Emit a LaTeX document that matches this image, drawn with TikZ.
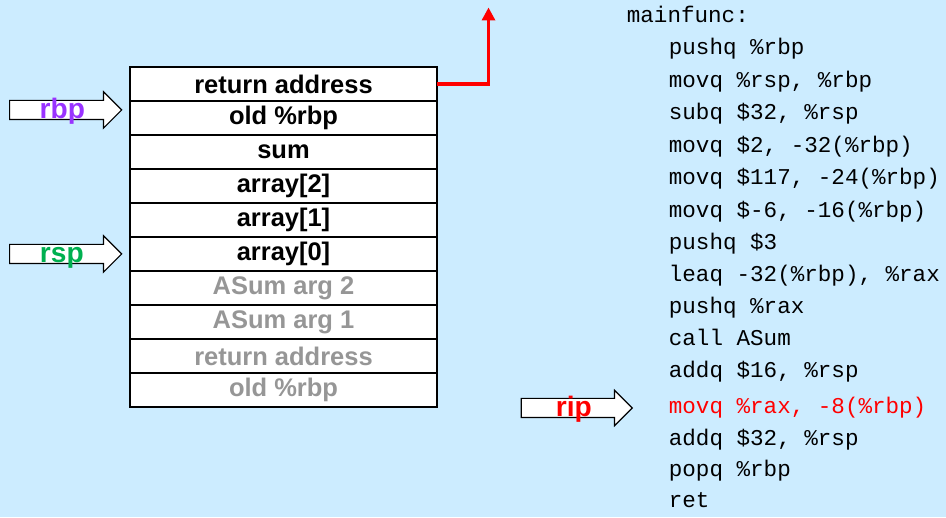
\documentclass[tikz,border=0pt]{standalone}
\usepackage{fontspec}
\setmainfont{Liberation Sans}
\setmonofont{Liberation Mono}
\usetikzlibrary{shapes.arrows,arrows.meta,positioning}

\definecolor{bgblue}{RGB}{204,236,255}
\definecolor{rbpcol}{RGB}{153,51,255}
\definecolor{rspcol}{RGB}{0,176,80}
\definecolor{ripcol}{RGB}{255,0,0}
\definecolor{argcol}{RGB}{150,150,150}

\tikzset{
  slot/.style={draw, line width=0.8pt, fill=white, outer sep=0pt, inner sep=0pt,
    minimum width=6.14cm, minimum height=0.68cm,
    font=\fontsize{14.5}{16}\selectfont\bfseries},
  oldslot/.style={slot, text=argcol},
  ptr/.style={single arrow, draw, line width=0.7pt, fill=white,
    inner xsep=0pt, inner ysep=0.18cm, minimum height=2.24cm,
    single arrow head extend=0.17cm, anchor=tip},
  ptrlbl/.style={font=\fontsize{16}{18}\selectfont\bfseries, inner sep=0pt, anchor=base},
  asm/.style={font=\fontsize{12.85}{15}\selectfont\ttfamily, anchor=mid west, inner sep=0pt},
}

\begin{document}
\begin{tikzpicture}
  \fill[bgblue] (0,0) rectangle (18.92,10.34);
  \useasboundingbox (0,0) rectangle (18.92,10.34);

  % stack frame
  \node[slot, anchor=north west] (s1) at (2.6,9.0) {return address};
  \node[slot, below=0pt of s1] (s2) {old \%rbp};
  \node[slot, below=0pt of s2] (s3) {sum};
  \node[slot, below=0pt of s3] (s4) {array[2]};
  \node[slot, below=0pt of s4] (s5) {array[1]};
  \node[slot, below=0pt of s5] (s6) {array[0]};
  \node[oldslot, below=0pt of s6] (s7) {ASum arg 2};
  \node[oldslot, below=0pt of s7] (s8) {ASum arg 1};
  \node[oldslot, below=0pt of s8] (s9) {return address};
  \node[oldslot, below=0pt of s9] (s10) {old \%rbp};

  % return address leaves the picture
  \coordinate (rettop) at (9.77,10.19);
  \draw[ripcol, line width=1.8pt, -{Triangle[length=0.26cm, width=0.26cm]}] (s1.east) -| (rettop);

  % register pointers
  \node[ptr] (rbpptr) at (2.45,8.14) {};
  \node[ptrlbl, text=rbpcol] (rbplbl) at ([shift={(0.03,-0.17)}]rbpptr.center) {rbp};
  \node[ptr] (rspptr) at (2.45,5.26) {};
  \node[ptrlbl, text=rspcol] (rsplbl) at ([shift={(0.02,-0.18)}]rspptr.center) {rsp};
  \node[ptr, minimum height=2.22cm, single arrow head extend=0.16cm] (ripptr) at (12.66,2.18) {};
  \node[ptrlbl, text=ripcol] (riplbl) at ([shift={(0.04,-0.18)}]ripptr.center) {rip};

  % code
  \node[asm] (asm0) at (12.53,9.974) {mainfunc:};
  \foreach \y/\txt [count=\i] in {
      9.34/{pushq \%rbp},
      8.674/{movq \%rsp, \%rbp},
      8.04/{subq \$32, \%rsp},
      7.374/{movq \$2, -32(\%rbp)},
      6.74/{movq \$117, -24(\%rbp)},
      6.074/{movq \$-6, -16(\%rbp)},
      5.44/{pushq \$3},
      4.806/{leaq -32(\%rbp), \%rax},
      4.16/{pushq \%rax},
      3.526/{call ASum},
      2.886/{addq \$16, \%rsp}}
    \node[asm] (asm\i) at (13.37,\y) {\txt};
  \node[asm, text=ripcol] (asmrip) at (13.37,2.154) {movq \%rax, -8(\%rbp)};
  \node[asm] (asm13) at (13.37,1.526) {addq \$32, \%rsp};
  \node[asm] (asm14) at (13.37,0.906) {popq \%rbp};
  \node[asm] (asm15) at (13.37,0.274) {ret};
\end{tikzpicture}
\end{document}
